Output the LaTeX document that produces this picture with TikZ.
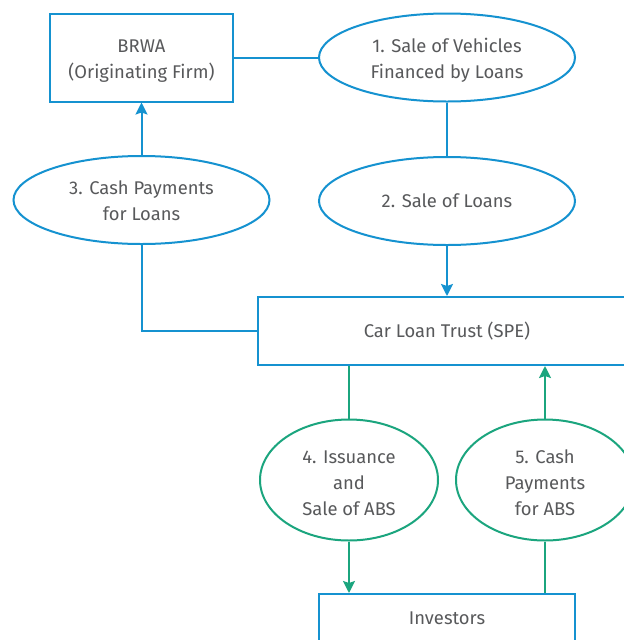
\documentclass[tikz,border=0pt]{standalone}
\usepackage{fontspec}
\setmainfont{Fira Sans}
\usetikzlibrary{shapes.geometric,arrows.meta}
\definecolor{cblue}{HTML}{1592D0}
\definecolor{cgreen}{HTML}{1BA57E}
\definecolor{ctext}{HTML}{58595B}
\newcommand\lowtxt[2]{\raisebox{-#1}[\height][\depth]{\begin{tabular}{@{}c@{}}#2\end{tabular}}}
\begin{document}
\begin{tikzpicture}[x=0.75pt,y=-0.75pt,
  every node/.style={text=ctext,font=\fontsize{13.8}{19.5}\selectfont,align=center,inner sep=0pt},
  bbox/.style={draw=cblue,line width=1.5pt,rectangle},
  bell/.style={draw=cblue,line width=1.5pt,ellipse,minimum width=192pt,minimum height=66pt},
  gell/.style={draw=cgreen,line width=1.5pt,ellipse,minimum width=133.5pt,minimum height=90.75pt},
  bline/.style={draw=cblue,line width=1.5pt},
  gline/.style={draw=cgreen,line width=1.5pt},
  tip/.style={-{Stealth[length=9pt,width=9pt,inset=1.5pt]}}]
\useasboundingbox (0,0) rectangle (624,640);
\clip (0,0) rectangle (624,640);
\fill[white] (0,0) rectangle (624,640);
\node[bbox,minimum width=137.25pt,minimum height=66pt] (brwa) at (141.5,57.5) {\lowtxt{2pt}{BRWA\\(Originating Firm)}};
\node[bell] (e1) at (447,57.5) {\lowtxt{2pt}{1. Sale of Vehicles\\Financed by Loans}};
\node[bell] (e2) at (447,201) {\lowtxt{0.75pt}{2. Sale of Loans}};
\node[bell] (e3) at (141.5,200) {\lowtxt{1.5pt}{3. Cash Payments\\for Loans}};
\node[bbox,minimum width=283.5pt,minimum height=51pt] (trust) at (447,331) {\lowtxt{0.75pt}{Car Loan Trust (SPE)}};
\node[gell] (e4) at (349,480) {\lowtxt{3.2pt}{4. Issuance\\and\\Sale of ABS}};
\node[gell] (e5) at (545,480) {\lowtxt{3.2pt}{5. Cash\\Payments\\for ABS}};
\node[bbox,minimum width=192pt,minimum height=36.75pt] (inv) at (447,618.5) {\lowtxt{0.5pt}{Investors}};
\draw[bline] (brwa.east) -- (e1.west);
\draw[bline] (e1.south) -- (e2.north);
\draw[bline,tip] (e2.south) -- (trust.north);
\draw[bline,tip] (e3.north) -- (brwa.south);
\draw[bline] (e3.south) |- (trust.west);
\draw[gline] (e4.north) -- (e4.north |- trust.south);
\draw[gline,tip] (e4.south) -- (e4.south |- inv.north);
\draw[gline,tip] (e5.north) -- (e5.north |- trust.south);
\draw[gline] (e5.south) -- (e5.south |- inv.north);
\end{tikzpicture}
\end{document}
